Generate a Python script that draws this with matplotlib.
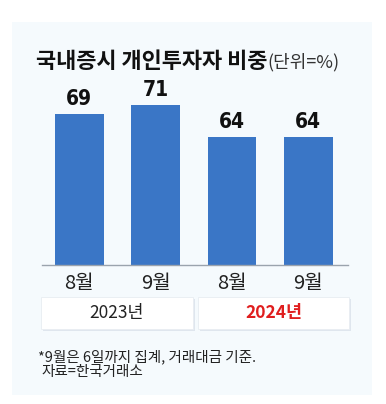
import matplotlib.pyplot as plt
from matplotlib.patches import Rectangle

# chart data
months = ["8월", "9월", "8월", "9월"]
shares = [69, 71, 64, 64]
years = ["2023년", "2024년"]
title = "국내증시 개인투자자 비중"
unit = "(단위=%)"
notes = ["*9월은 6일까지 집계, 거래대금 기준.", "자료=한국거래소"]

W, H = 386, 404
plt.rcParams["font.family"] = ["Noto Sans CJK KR", "DejaVu Sans"]

fig = plt.figure(figsize=(W / 100, H / 100), dpi=100)
fig.patch.set_facecolor("white")


def px(x, y):
    # pixel (top-left origin) -> figure fraction
    return x / W, 1 - y / H


# light background panel
fig.patches.append(Rectangle((12 / W, 1 - 395 / H), 360 / W, 373 / H,
                             transform=fig.transFigure, facecolor="#f5fafd",
                             edgecolor="none", zorder=-5))

# title
fig.text(*px(36, 61), title, fontsize=15.8, fontweight="bold", color="#111111",
         va="center", ha="left")
fig.text(*px(267, 62), unit, fontsize=13, color="#333333", va="center", ha="left")

# bars
ax = fig.add_axes([42 / W, 1 - 265 / H, 306 / W, 185 / H])
ax.set_zorder(1)
ax.set_facecolor("none")
x = range(len(shares))
bars = ax.bar(x, shares, width=0.64, color="#3a76c6", zorder=2)
ax.set_ylim(36, 76.5)
ax.set_xlim(-0.49, 3.52)
for s in ["top", "right", "left"]:
    ax.spines[s].set_visible(False)
ax.spines["bottom"].set_color("#9aa3ad")
ax.spines["bottom"].set_linewidth(1.0)
ax.set_yticks([])
ax.set_xticks(list(x))
ax.set_xticklabels(months, fontsize=14.5, color="#222222")
ax.tick_params(axis="x", length=0, pad=6)

for b, v in zip(bars, shares):
    ax.annotate(str(v), (b.get_x() + b.get_width() / 2, v), xytext=(0, 4),
                textcoords="offset points", ha="center", va="bottom",
                fontsize=15, fontweight="bold", color="#111111",
                family="DejaVu Sans", fontstretch="condensed")

# year boxes
box_specs = [(41, 193), (198, 349)]
for (x0, x1), label, col, wt in zip(box_specs, years, ["#222222", "#e01e1e"],
                                    ["normal", "bold"]):
    fig.patches.append(Rectangle((x0 / W + 1.5 / W, 1 - 331 / H), (x1 - x0) / W, 32 / H,
                                 transform=fig.transFigure, facecolor="#dfe6ee",
                                 edgecolor="none", zorder=1))
    fig.patches.append(Rectangle((x0 / W, 1 - 329 / H), (x1 - x0) / W, 32 / H,
                                 transform=fig.transFigure, facecolor="white",
                                 edgecolor="#e8edf2", linewidth=0.6, zorder=2))
    fig.text(*px((x0 + x1) / 2, 313), label, fontsize=12.5, color=col,
             fontweight=wt, ha="center", va="center")

# footnotes
fig.text(*px(38, 357), notes[0], fontsize=10.5, color="#222222", ha="left", va="center")
fig.text(*px(41, 372), notes[1], fontsize=10.5, color="#222222", ha="left", va="center")

fig.savefig("out.png", dpi=100)
